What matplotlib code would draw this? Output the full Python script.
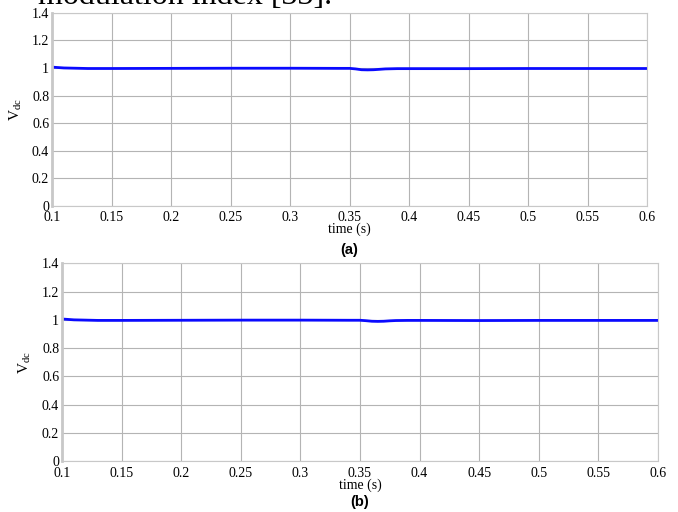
import matplotlib.pyplot as plt
from matplotlib.ticker import FixedLocator

# Vdc traces
t_a = [0.1, 0.105, 0.11, 0.12, 0.13, 0.15, 0.2, 0.25, 0.3, 0.34, 0.35, 0.355,
       0.36, 0.365, 0.37, 0.375, 0.38, 0.39, 0.4, 0.45, 0.5, 0.55, 0.6]
v_a = [1.006, 1.003, 1.0, 0.998, 0.996, 0.996, 0.997, 0.998, 0.998, 0.997, 0.997, 0.993,
       0.987, 0.986, 0.987, 0.99, 0.993, 0.995, 0.995, 0.995, 0.996, 0.996, 0.996]
t_b = [0.1, 0.105, 0.11, 0.12, 0.13, 0.15, 0.2, 0.25, 0.3, 0.34, 0.35, 0.355,
       0.36, 0.365, 0.37, 0.375, 0.38, 0.39, 0.4, 0.45, 0.5, 0.55, 0.6]
v_b = [1.006, 1.003, 1.0, 0.998, 0.996, 0.996, 0.997, 0.998, 0.998, 0.997, 0.997, 0.994,
       0.99, 0.989, 0.99, 0.993, 0.995, 0.996, 0.996, 0.995, 0.996, 0.996, 0.996]

xticks = [0.1, 0.15, 0.2, 0.25, 0.3, 0.35, 0.4, 0.45, 0.5, 0.55, 0.6]
xlabels = ["0.1", "0.15", "0.2", "0.25", "0.3", "0.35", "0.4", "0.45", "0.5", "0.55", "0.6"]
yticks = [0, 0.2, 0.4, 0.6, 0.8, 1, 1.2, 1.4]
ylabels = ["0", "0.2", "0.4", "0.6", "0.8", "1", "1.2", "1.4"]

serif = "Liberation Serif"
fig = plt.figure(figsize=(6.78, 5.12), dpi=100)

# cut-off caption text from the page above
fig.text(0.056, 0.993, "modulation index [33].", family=serif, fontsize=23,
         va="baseline", ha="left")


def panel(rect, t, v, tag, tag_y):
    ax = fig.add_axes(rect)
    ax.plot(t, v, color="#0a0aff", lw=2)
    ax.set_xlim(0.1, 0.6)
    ax.set_ylim(0, 1.4)
    ax.xaxis.set_major_locator(FixedLocator(xticks))
    ax.yaxis.set_major_locator(FixedLocator(yticks))
    ax.set_xticklabels(xlabels, family=serif, fontsize=10)
    ax.set_yticklabels(ylabels, family=serif, fontsize=10)
    ax.tick_params(axis="x", length=0, pad=4)
    ax.tick_params(axis="y", length=0, pad=2)
    ax.grid(True, color="#b4b4b4", lw=0.8)
    for s in ax.spines.values():
        s.set_color("#c8c8c8")
        s.set_linewidth(0.8)
    ax.spines["left"].set_linewidth(2)
    ax.set_xlabel("time (s)", family=serif, fontsize=10, labelpad=-1)
    ax.set_ylabel(r"V$_{\mathregular{dc}}$", family=serif, fontsize=11, labelpad=6)
    x_mid = rect[0] + rect[2] / 2
    fig.text(x_mid, tag_y, tag, ha="center", va="center",
             family="Liberation Sans", fontweight="bold", fontsize=10.5)
    return ax


panel([0.0767, 0.598, 0.878, 0.377], t_a, v_a, "(a)", 0.512)
panel([0.0914, 0.0996, 0.879, 0.386], t_b, v_b, "(b)", 0.02)

plt.savefig("out.png", dpi=100)
